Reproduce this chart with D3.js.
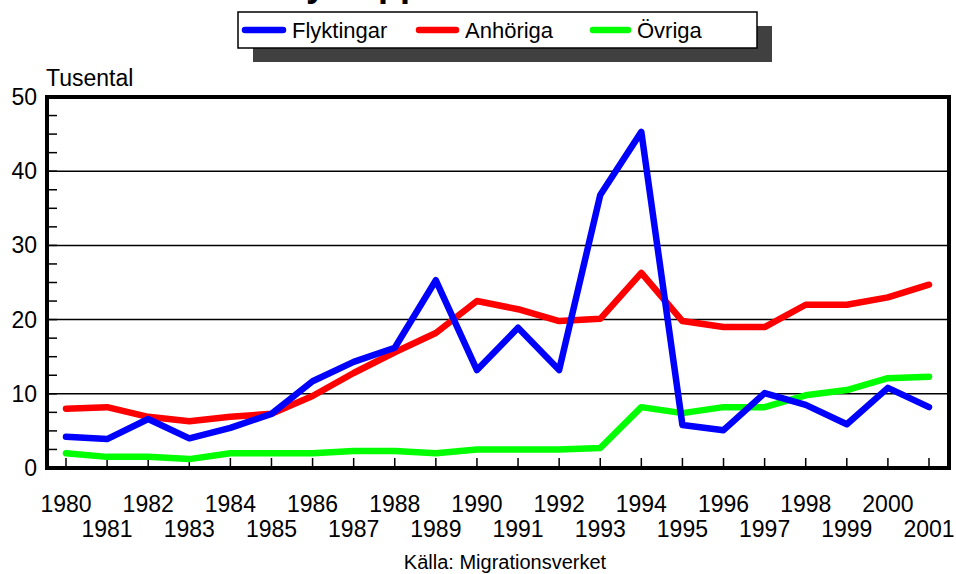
<!DOCTYPE html>
<html lang="sv">
<head>
<meta charset="UTF-8">
<title>Tusental</title>
<script src="https://d3js.org/d3.v7.min.js"></script>
<style>
    body { margin: 0; background: #fff; }
    svg text { font-family: "Liberation Sans", Arial, sans-serif; fill: #000; }
</style>
</head>
<body>
<svg width="956" height="574"></svg>
<script>
    var years = d3.range(1980, 2002);
    var flyktingar = [4.2, 3.9, 6.6, 4.0, 5.4, 7.3, 11.7, 14.3, 16.2, 25.3, 13.2, 18.9, 13.2, 36.8, 45.3, 5.8, 5.1, 10.1, 8.5, 5.9, 10.8, 8.2];
    var anhoriga = [8.0, 8.2, 6.9, 6.3, 6.9, 7.3, 9.7, 12.8, 15.6, 18.2, 22.5, 21.4, 19.8, 20.1, 26.3, 19.8, 19.0, 19.0, 22.0, 22.0, 23.0, 24.7];
    var ovriga = [2.0, 1.5, 1.5, 1.2, 2.0, 2.0, 2.0, 2.3, 2.3, 2.0, 2.5, 2.5, 2.5, 2.7, 8.2, 7.4, 8.2, 8.2, 9.8, 10.5, 12.1, 12.3];
    var yTicks = [0, 10, 20, 30, 40, 50];
    var seriesNames = ['Flyktingar', 'Anhöriga', 'Övriga'];
    var seriesColors = ['#0000ff', '#ff0000', '#00ff00'];

    var svg = d3.select('svg');

    // frame of the plot
    var plotLeft = 47, plotRight = 949, plotTop = 97, plotBottom = 468;

    var x = d3.scaleLinear().domain([1980, 2001]).range([66, 929]);
    var y = d3.scaleLinear().domain([0, 50]).range([plotBottom, plotTop]);

    // title, mostly above the window
    svg.append('text')
        .attr('x', 280).attr('y', -4)
        .style('font-size', '36px').style('font-weight', 'bold')
        .text('Nya uppehållstillstånd');

    // gridlines
    svg.append('g').selectAll('line')
        .data(yTicks.filter(function(d) { return d > 0 && d < 50; }))
        .join('line')
        .attr('x1', plotLeft).attr('x2', plotRight)
        .attr('y1', function(d) { return y(d); })
        .attr('y2', function(d) { return y(d); })
        .attr('stroke', '#000').attr('stroke-width', 1.5);

    // minor ticks on y axis
    svg.append('g').selectAll('line')
        .data(d3.range(0, 50.1, 2.5))
        .join('line')
        .attr('x1', plotLeft).attr('x2', plotLeft + 10)
        .attr('y1', function(d) { return y(d); })
        .attr('y2', function(d) { return y(d); })
        .attr('stroke', '#000').attr('stroke-width', 1.5);

    // year ticks
    svg.append('g').selectAll('line')
        .data(years)
        .join('line')
        .attr('x1', function(d) { return x(d); })
        .attr('x2', function(d) { return x(d); })
        .attr('y1', plotBottom).attr('y2', plotBottom - 10)
        .attr('stroke', '#000').attr('stroke-width', 1.5);

    // y labels
    svg.append('g').selectAll('text')
        .data(yTicks)
        .join('text')
        .attr('x', 37)
        .attr('y', function(d) { return y(d) + 8; })
        .attr('text-anchor', 'end')
        .style('font-size', '23px')
        .text(function(d) { return d; });

    svg.append('text')
        .attr('x', 46).attr('y', 86)
        .style('font-size', '23px')
        .text('Tusental');

    // x labels, two rows
    svg.append('g').selectAll('text')
        .data(years)
        .join('text')
        .attr('x', function(d) { return x(d); })
        .attr('y', function(d) { return d % 2 === 0 ? 512 : 537; })
        .attr('text-anchor', 'middle')
        .style('font-size', '23px')
        .text(function(d) { return d; });

    svg.append('text')
        .attr('x', 505).attr('y', 569)
        .attr('text-anchor', 'middle')
        .style('font-size', '20px')
        .text('Källa: Migrationsverket');

    // lines
    var line = d3.line()
        .x(function(d, i) { return x(years[i]); })
        .y(function(d) { return y(d); });

    var drawOrder = [[ovriga, 2], [anhoriga, 1], [flyktingar, 0]];
    drawOrder.forEach(function(s) {
        svg.append('path')
            .attr('d', line(s[0]))
            .attr('fill', 'none')
            .attr('stroke', seriesColors[s[1]])
            .attr('stroke-width', 6.5)
            .attr('stroke-linejoin', 'round')
            .attr('stroke-linecap', 'round');
    });

    // frame on top
    svg.append('rect')
        .attr('x', plotLeft).attr('y', plotTop)
        .attr('width', plotRight - plotLeft).attr('height', plotBottom - plotTop)
        .attr('fill', 'none').attr('stroke', '#000').attr('stroke-width', 4);

    // legend with shadow
    svg.append('rect')
        .attr('x', 253).attr('y', 26).attr('width', 519).attr('height', 36)
        .attr('fill', '#404040');
    svg.append('rect')
        .attr('x', 238).attr('y', 12).attr('width', 519).attr('height', 36)
        .attr('fill', '#fff').attr('stroke', '#000').attr('stroke-width', 1.5);

    var legendX = [[245, 283, 292], [419, 456, 465], [593, 628, 637]];
    seriesNames.forEach(function(name, i) {
        svg.append('line')
            .attr('x1', legendX[i][0]).attr('x2', legendX[i][1])
            .attr('y1', 30).attr('y2', 30)
            .attr('stroke', seriesColors[i]).attr('stroke-width', 6.5)
            .attr('stroke-linecap', 'round');
        svg.append('text')
            .attr('x', legendX[i][2]).attr('y', 38)
            .style('font-size', '22px')
            .text(name);
    });
</script>
</body>
</html>
